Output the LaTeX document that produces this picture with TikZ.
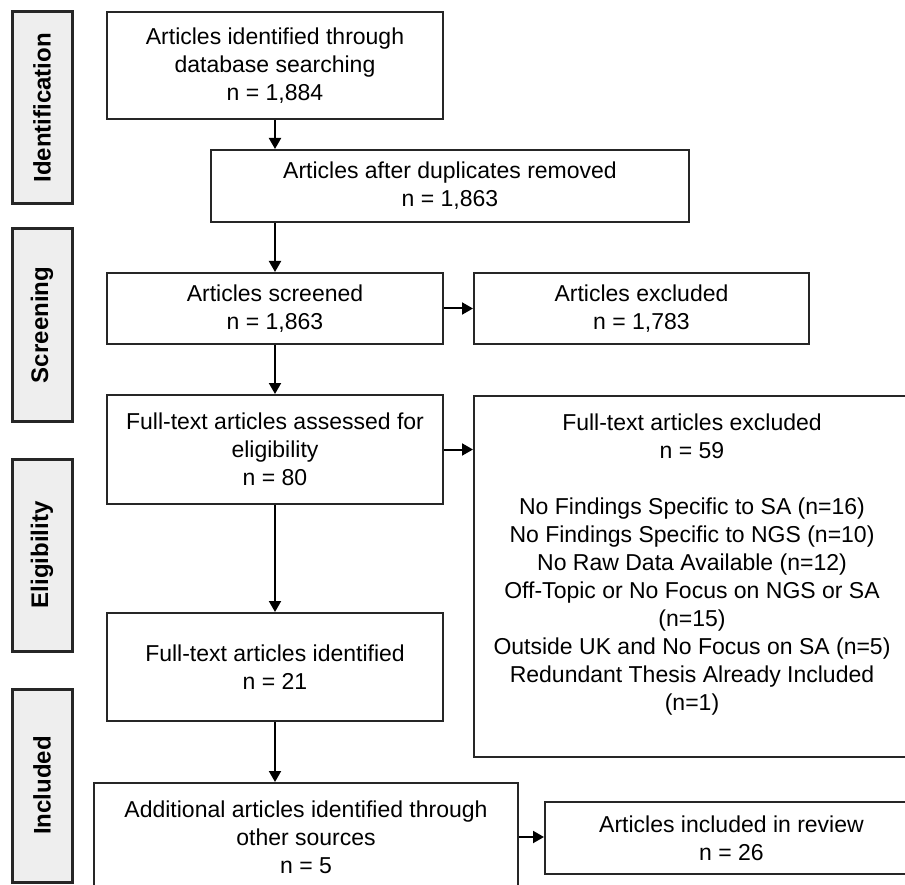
\documentclass[tikz,border=0pt]{standalone}
\usepackage{fontspec}
\setmainfont{Liberation Sans}
\usepackage{tikz}
\usetikzlibrary{arrows.meta,positioning,calc}
\tikzstyle{box} = [draw=black!85,line width=2pt,align=center,inner sep=0pt,font=\fontsize{23}{28}\selectfont]
\tikzstyle{phase} = [draw=black!85,line width=3pt,fill=gray!13,rotate=90,inner sep=0pt,minimum width=192,minimum height=60,font=\fontsize{24}{28}\selectfont\bfseries]
\tikzstyle{arrow} = [line width=2pt,-{Triangle[width=12pt,length=11pt]}]

\begin{document}
\begin{tikzpicture}[x=1pt,y=-1pt]
\useasboundingbox (0,0) rectangle (905,885);
% phase bars
\node[phase] (idbar) at (42,108) {Identification};
\node[phase] (scbar) at (42,325) {Screening};
\node[phase] (elbar) at (42,555) {Eligibility};
\node[phase,minimum width=193] (inbar) at (42,785.5) {Included};

% main column
\node[box,minimum width=336,minimum height=107] (ident) at (275,65.5) {Articles identified through\\database searching\\n = 1,884};
\node[box,minimum width=478,minimum height=72] (dupl) at (450,186) {Articles after duplicates removed\\n = 1,863};
\node[box,minimum width=336,minimum height=71] (screen) at (275,308.5) {Articles screened\\n = 1,863};
\node[box,minimum width=336,minimum height=109] (assess) at (275,449.5) {Full-text articles assessed for\\eligibility\\n = 80};
\node[box,minimum width=336,minimum height=108] (ftident) at (275,667) {Full-text articles identified\\n = 21};
\node[box,minimum width=424,minimum height=108] (addit) at (306,837) {Additional articles identified through\\other sources\\n = 5};

% right column
\node[box,minimum width=335,minimum height=71] (excl) at (641.5,308.5) {Articles excluded\\n = 1,783};
\node[box,minimum width=436,minimum height=361] (ftexcl) at (692,576.5) {Full-text articles excluded\\n = 59\\ \\No Findings Specific to SA (n=16)\\No Findings Specific to NGS (n=10)\\No Raw Data Available (n=12)\\Off-Topic or No Focus on NGS or SA\\(n=15)\\Outside UK and No Focus on SA (n=5)\\Redundant Thesis Already Included\\(n=1)\\ ~};
\node[box,minimum width=373,minimum height=72] (review) at (731.5,838) {Articles included in review\\n = 26};

% arrows
\draw[arrow] (ident.south) -- (ident.south |- dupl.north);
\draw[arrow] (screen.north |- dupl.south) -- (screen.north);
\draw[arrow] (screen) -- (assess);
\draw[arrow] (assess) -- (ftident);
\draw[arrow] (ftident.south) -- (ftident.south |- addit.north);
\draw[arrow] (screen.east) -- (excl.west);
\draw[arrow] (assess.east) -- (assess.east -| ftexcl.west);
\draw[arrow] (addit.east) -- (addit.east -| review.west);
\end{tikzpicture}
\end{document}
